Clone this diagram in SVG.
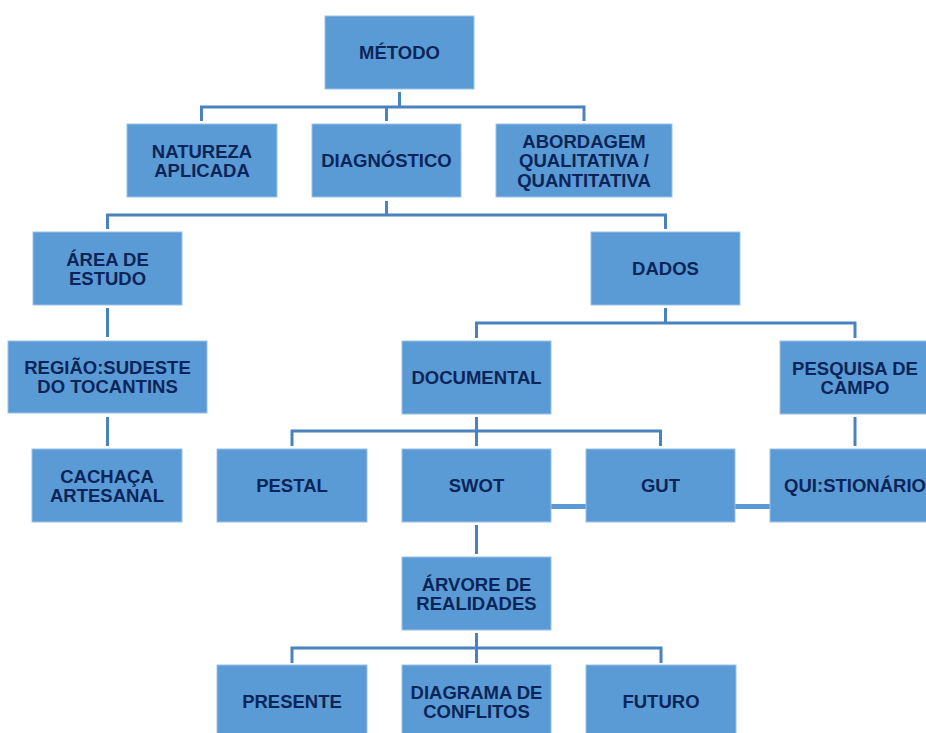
<svg xmlns="http://www.w3.org/2000/svg" width="926" height="733" viewBox="0 0 926 733">
  <style>
    .box { fill: #5b9bd5; stroke: #9cc2e8; stroke-width: 1; }
    .lbl { font-family: "Liberation Sans", Arial, sans-serif; font-weight: bold; font-size: 18.5px; fill: #0c2558; text-anchor: middle; dominant-baseline: central; }
    .wire { fill: none; stroke: #4a82c0; stroke-width: 3; }
    .bar { fill: #5b9bd5; }
  </style>
  <rect width="926" height="733" fill="#ffffff"/>

  <!-- tree connectors -->
  <g id="connectors">
    <path class="wire" d="M399.5,92 V107 M201.5,121 V107 H584 V121 M386.5,107 V121"/>
    <path class="wire" d="M386.5,201 V215 M107.5,229 V215 H665.5 V229"/>
    <path class="wire" d="M107.5,308 V337 M107.5,417 V446"/>
    <path class="wire" d="M665.5,308 V323 M476.5,338 V323 H855 V338"/>
    <path class="wire" d="M476.5,417 V431 M292,446 V431 H660.5 V446 M476.5,431 V446"/>
    <path class="wire" d="M855,417 V446"/>
    <path class="wire" d="M476.5,525 V554"/>
    <path class="wire" d="M476.5,633 V663 M292,663 V648 H661 V663"/>
    <rect class="bar" x="551" y="504" width="35" height="5"/>
    <rect class="bar" x="735" y="504" width="35" height="5"/>
  </g>

  <g id="metodo">
    <rect class="box" x="325" y="16" width="149" height="73"/>
    <text class="lbl" x="399.5" y="52.5">MÉTODO</text>
  </g>
  <g id="natureza">
    <rect class="box" x="127" y="124" width="150" height="73"/>
    <text class="lbl" x="202" y="151">NATUREZA</text>
    <text class="lbl" x="202" y="170">APLICADA</text>
  </g>
  <g id="diagnostico">
    <rect class="box" x="312" y="124" width="149" height="73"/>
    <text class="lbl" x="386.5" y="160.5">DIAGNÓSTICO</text>
  </g>
  <g id="abordagem">
    <rect class="box" x="496" y="124" width="176" height="73"/>
    <text class="lbl" x="584" y="141">ABORDAGEM</text>
    <text class="lbl" x="584" y="160.5">QUALITATIVA /</text>
    <text class="lbl" x="584" y="180">QUANTITATIVA</text>
  </g>
  <g id="area-estudo">
    <rect class="box" x="33" y="232" width="149" height="73"/>
    <text class="lbl" x="107.5" y="259">ÁREA DE</text>
    <text class="lbl" x="107.5" y="278">ESTUDO</text>
  </g>
  <g id="dados">
    <rect class="box" x="591" y="232" width="149" height="73"/>
    <text class="lbl" x="665.5" y="268.5">DADOS</text>
  </g>
  <g id="regiao">
    <rect class="box" x="8" y="341" width="199" height="72"/>
    <text class="lbl" x="107.5" y="367.5">REGIÃO:SUDESTE</text>
    <text class="lbl" x="107.5" y="386.5">DO TOCANTINS</text>
  </g>
  <g id="documental">
    <rect class="box" x="402" y="341" width="149" height="73"/>
    <text class="lbl" x="476.5" y="377.5">DOCUMENTAL</text>
  </g>
  <g id="pesquisa-campo">
    <rect class="box" x="780" y="341" width="150" height="73"/>
    <text class="lbl" x="855" y="368">PESQUISA DE</text>
    <text class="lbl" x="855" y="387">CAMPO</text>
  </g>
  <g id="cachaca">
    <rect class="box" x="32" y="449" width="150" height="73"/>
    <text class="lbl" x="107" y="476">CACHAÇA</text>
    <text class="lbl" x="107" y="495">ARTESANAL</text>
  </g>
  <g id="pestal">
    <rect class="box" x="217" y="449" width="150" height="73"/>
    <text class="lbl" x="292" y="485.5">PESTAL</text>
  </g>
  <g id="swot">
    <rect class="box" x="402" y="449" width="149" height="73"/>
    <text class="lbl" x="476.5" y="485.5">SWOT</text>
  </g>
  <g id="gut">
    <rect class="box" x="586" y="449" width="149" height="73"/>
    <text class="lbl" x="660.5" y="485.5">GUT</text>
  </g>
  <g id="questionario">
    <rect class="box" x="770" y="449" width="170" height="73"/>
    <text class="lbl" x="855" y="485.5">QUI:STIONÁRIO</text>
  </g>
  <g id="arvore">
    <rect class="box" x="402" y="557" width="149" height="73"/>
    <text class="lbl" x="476.5" y="584">ÁRVORE DE</text>
    <text class="lbl" x="476.5" y="603">REALIDADES</text>
  </g>
  <g id="presente">
    <rect class="box" x="217" y="665" width="150" height="73"/>
    <text class="lbl" x="292" y="701">PRESENTE</text>
  </g>
  <g id="diagrama">
    <rect class="box" x="402" y="665" width="149" height="73"/>
    <text class="lbl" x="476.5" y="692">DIAGRAMA DE</text>
    <text class="lbl" x="476.5" y="711">CONFLITOS</text>
  </g>
  <g id="futuro">
    <rect class="box" x="586" y="665" width="150" height="73"/>
    <text class="lbl" x="661" y="701">FUTURO</text>
  </g>
</svg>
